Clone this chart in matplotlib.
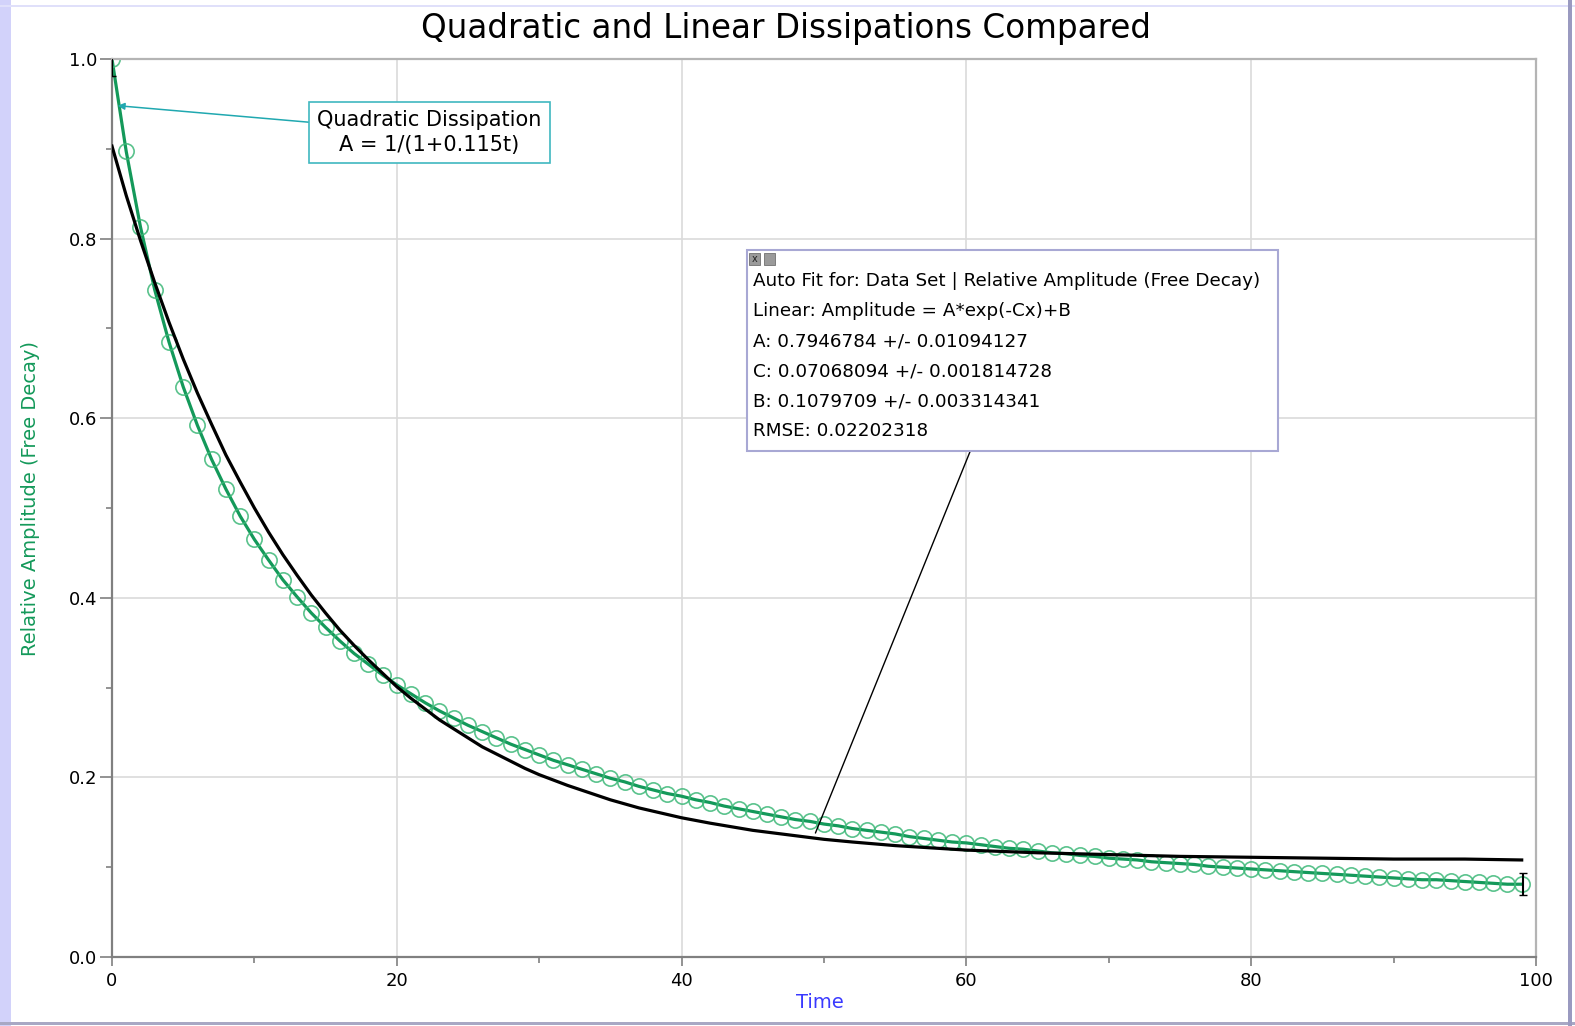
import matplotlib
matplotlib.use("Agg")
from matplotlib import pyplot as plt
from matplotlib.patches import Rectangle
import numpy as np

# data set: relative amplitude (free decay), one reading per time unit
time = list(range(100))
amplitude = [1.000, 0.897, 0.813, 0.743, 0.685, 0.635, 0.592, 0.554, 0.521, 0.491,
             0.465, 0.442, 0.420, 0.401, 0.383, 0.367, 0.352, 0.338, 0.326, 0.314,
             0.303, 0.293, 0.283, 0.274, 0.266, 0.258, 0.251, 0.244, 0.237, 0.231,
             0.225, 0.219, 0.214, 0.209, 0.204, 0.199, 0.195, 0.190, 0.186, 0.182,
             0.179, 0.175, 0.172, 0.168, 0.165, 0.162, 0.159, 0.156, 0.153, 0.151,
             0.148, 0.146, 0.143, 0.141, 0.139, 0.137, 0.134, 0.132, 0.130, 0.128,
             0.127, 0.125, 0.123, 0.121, 0.120, 0.118, 0.116, 0.115, 0.113, 0.112,
             0.110, 0.109, 0.108, 0.106, 0.105, 0.104, 0.103, 0.101, 0.100, 0.099,
             0.098, 0.097, 0.096, 0.095, 0.094, 0.093, 0.092, 0.091, 0.090, 0.089,
             0.088, 0.087, 0.086, 0.086, 0.085, 0.084, 0.083, 0.082, 0.081, 0.081]

# auto fit curve
fit_t = [0, 1, 2, 3, 4, 5, 6, 7, 8, 9, 10, 11, 12, 13, 14, 15, 16, 17, 18, 19,
         20, 21, 22, 23, 24, 25, 26, 27, 28, 29, 30, 32, 35, 37, 40, 42, 45, 47,
         50, 52, 55, 60, 65, 70, 75, 80, 85, 90, 95, 99]
fit_a = [0.903, 0.848, 0.798, 0.751, 0.707, 0.666, 0.628, 0.593, 0.559, 0.529,
         0.500, 0.473, 0.448, 0.425, 0.403, 0.383, 0.364, 0.347, 0.331, 0.316,
         0.301, 0.288, 0.276, 0.264, 0.254, 0.244, 0.234, 0.226, 0.218, 0.210,
         0.203, 0.191, 0.175, 0.166, 0.155, 0.149, 0.141, 0.137, 0.131, 0.128,
         0.124, 0.119, 0.116, 0.114, 0.112, 0.111, 0.110, 0.109, 0.109, 0.108]

fit_lines = ["Auto Fit for: Data Set | Relative Amplitude (Free Decay)",
             "Linear: Amplitude = A*exp(-Cx)+B",
             "A: 0.7946784 +/- 0.01094127",
             "C: 0.07068094 +/- 0.001814728",
             "B: 0.1079709 +/- 0.003314341",
             "RMSE: 0.02202318"]

green = "#14995a"

fig = plt.figure(figsize=(15.75, 10.26), dpi=100)
ax = fig.add_axes([0.0711, 0.0673, 0.9041, 0.8752])

# window frame bits
fig.patches.append(Rectangle((0, 0), 11/1575, 1, transform=fig.transFigure, fc="#d2d2fa", ec="none"))
fig.patches.append(Rectangle((0, 1 - 7/1026), 1, 1.5/1026, transform=fig.transFigure, fc="#e0e0fa", ec="none"))
fig.patches.append(Rectangle((0, 1/1026), 1, 3/1026, transform=fig.transFigure, fc="#a8a8c4", ec="none"))
fig.patches.append(Rectangle((1568/1575, 0), 4/1575, 1, transform=fig.transFigure, fc="#9a9ac0", ec="none"))

ax.plot(time, amplitude, color=green, lw=2.3, zorder=2)
ax.plot(time, amplitude, 'o', mfc='none', mec="#3db878", mew=1.2, ms=11, alpha=0.85, zorder=2.5)
ax.plot(fit_t, fit_a, color='black', lw=2.3, zorder=3)

# range brackets
ax.errorbar([0], [0.993], yerr=0.012, color='black', capsize=3, lw=1.5, zorder=4)
ax.errorbar([99.1], [0.081], yerr=0.012, color='black', capsize=3, lw=1.5, zorder=4)

ax.set_xlim(0, 100)
ax.set_ylim(0, 1.0)
ax.set_xticks(np.arange(0, 101, 20))
ax.set_yticks(np.arange(0, 1.01, 0.2))
ax.set_yticklabels(["0.0", "0.2", "0.4", "0.6", "0.8", "1.0"])
ax.set_xticks(np.arange(10, 100, 20), minor=True)
ax.set_yticks(np.arange(0.1, 1.0, 0.2), minor=True)
ax.grid(True, which='major', color="#dadada", lw=1.2)
ax.set_axisbelow(True)

ax.tick_params(axis='x', which='major', length=6.5, width=1.2, color="#808080", pad=4, labelsize=13)
ax.tick_params(axis='y', which='major', length=8.5, width=1.2, color="#808080", pad=2, labelsize=13)
ax.tick_params(axis='both', which='minor', length=4, width=1.2, color="#808080")

for side in ['left', 'bottom']:
    ax.spines[side].set_color("#808080")
    ax.spines[side].set_linewidth(1.6)
for side in ['top', 'right']:
    ax.spines[side].set_color("#b4b4b4")
    ax.spines[side].set_linewidth(1.6)

ax.set_xlabel("Time", color="#3a3aff", fontsize=14)
ax.xaxis.set_label_coords(0.497, -0.040)
ax.set_ylabel("Relative Amplitude (Free Decay)", color=green, fontsize=14)
ax.yaxis.set_label_coords(-0.0506, 0.51)

fig.text(0.499, 0.972, "Quadratic and Linear Dissipations Compared", ha='center', va='center', fontsize=23.5)

# quadratic model note
ax.annotate("Quadratic Dissipation\nA = 1/(1+0.115t)", xy=(0.4, 0.948), xytext=(22.3, 0.918),
            ha='center', va='center', fontsize=15, linespacing=1.3, zorder=6,
            bbox=dict(boxstyle='square,pad=0.38', fc='white', ec="#40b8c0", lw=1.2),
            arrowprops=dict(arrowstyle='-|>', color="#20a8b0", lw=1.1, shrinkA=0, shrinkB=0, mutation_scale=10))

# auto fit box
bx0, bx1, by0, by1 = 0.4459, 0.8188, 0.5635, 0.7873
ax.add_patch(Rectangle((bx0, by0), bx1 - bx0, by1 - by0, transform=ax.transAxes,
                       fc='white', ec="#a8a8d4", lw=1.5, zorder=6))
ax.add_patch(Rectangle((0.4473, 0.7705), 0.0077, 0.0134, transform=ax.transAxes, fc="#9a9a9a", ec="#707070", lw=0.6, zorder=7))
ax.add_patch(Rectangle((0.4578, 0.7705), 0.0077, 0.0134, transform=ax.transAxes, fc="#9a9a9a", ec="#707070", lw=0.6, zorder=7))
ax.text(0.4511, 0.7772, "x", transform=ax.transAxes, fontsize=7, ha='center', va='center', color='#222222', zorder=8)
for i, line in enumerate(fit_lines):
    ax.text(0.4505, 0.7525 - i * 0.0334, line, transform=ax.transAxes, fontsize=13.2, va='center', ha='left', zorder=7)
ax.annotate('', xy=(49.4, 0.138), xycoords='data', xytext=(0.6025, 0.5624), textcoords='axes fraction',
            arrowprops=dict(arrowstyle='-', color='black', lw=1, shrinkA=0, shrinkB=0), zorder=5)

plt.savefig("out.png", dpi=100)
